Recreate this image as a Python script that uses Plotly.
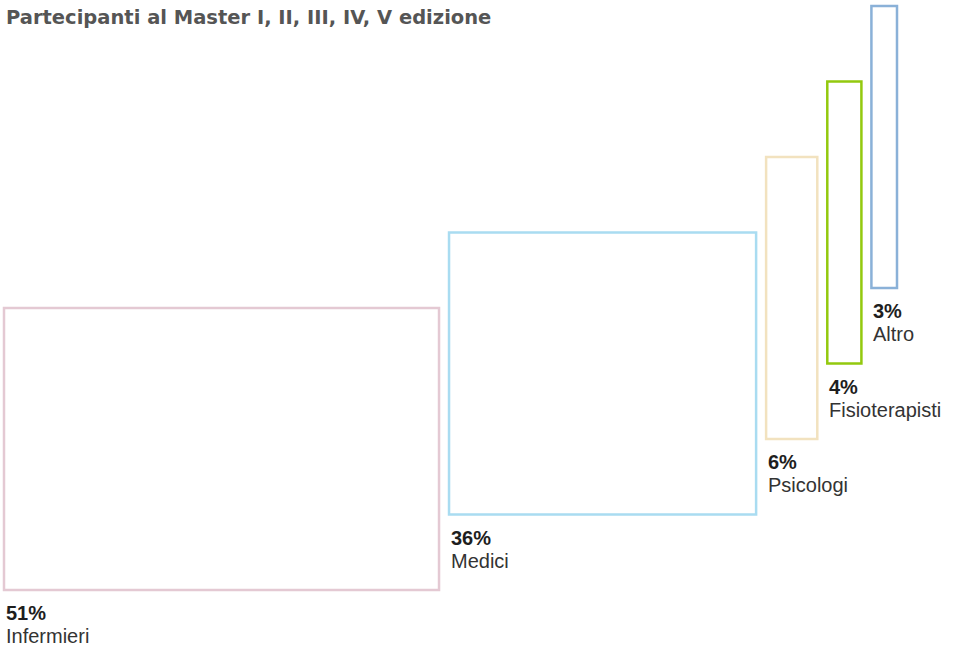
import plotly.graph_objects as go

# Partecipanti per professione (percentuali)
categories = ["Infermieri", "Medici", "Psicologi", "Fisioterapisti", "Altro"]
percent = [51, 36, 6, 4, 3]
colors = ["#e4c9d3", "#a9dcf1", "#f2e2bf", "#93c90e", "#8ab1d8"]

W, H = 956, 649
PX_PER_PCT = 8.53      # horizontal scale: pixels per percentage point
GAP = 10 / PX_PER_PCT  # gap between boxes, in percentage units
BAR_H = 282            # box height (y axis in pixels from the bottom)
BASE0 = 59             # bottom of the first box
STEP = 75.5            # vertical stagger between consecutive boxes

lefts, centers, bases = [], [], []
cursor = 0.0
for i, p in enumerate(percent):
    lefts.append(cursor)
    centers.append(cursor + p / 2)
    bases.append(BASE0 + i * STEP)
    cursor += p + GAP

fig = go.Figure()
fig.add_trace(go.Bar(
    x=centers,
    y=[BAR_H] * len(percent),
    base=bases,
    width=percent,
    marker=dict(color="rgba(255,255,255,0)",
                line=dict(color=colors, width=2.5)),
    hoverinfo="skip",
    showlegend=False,
))

for left, base, p, name in zip(lefts, bases, percent, categories):
    fig.add_annotation(x=left, y=base, xref="x", yref="y",
                       text=f"<b>{p}%</b>", showarrow=False,
                       xanchor="left", yanchor="top", xshift=0, yshift=-10,
                       font=dict(family="Liberation Sans, Arial", size=20, color="#1e1e1e"))
    fig.add_annotation(x=left, y=base, xref="x", yref="y",
                       text=name, showarrow=False,
                       xanchor="left", yanchor="top", xshift=0, yshift=-33,
                       font=dict(family="Liberation Sans, Arial", size=20, color="#333333"))

fig.add_annotation(x=0, y=1, xref="paper", yref="paper",
                   text="<b>Partecipanti al Master I, II, III, IV, V edizione</b>",
                   showarrow=False, xanchor="left", yanchor="top", xshift=4, yshift=-4,
                   font=dict(family="DejaVu Sans", size=19.5, color="#555555"))

fig.update_layout(
    width=W, height=H,
    margin=dict(l=0, r=0, t=0, b=0),
    paper_bgcolor="white", plot_bgcolor="white",
    barmode="overlay",
    xaxis=dict(range=[-4 / PX_PER_PCT, (W - 4) / PX_PER_PCT], visible=False, fixedrange=True),
    yaxis=dict(range=[0, H], visible=False, fixedrange=True),
)

fig.write_html("out.html")
